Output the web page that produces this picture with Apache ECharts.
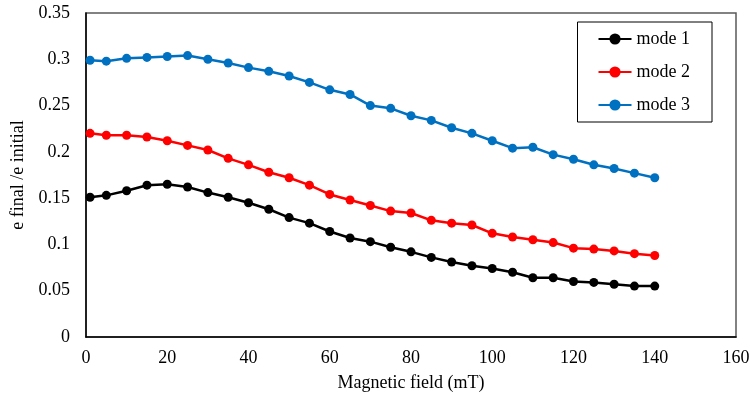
<!DOCTYPE html>
<html>
<head>
<meta charset="utf-8">
<script src="https://cdn.jsdelivr.net/npm/echarts@6/dist/echarts.min.js"></script>
<style>html,body{margin:0;padding:0;background:#fff;}#c{width:750px;height:397px;}</style>
</head>
<body>
<div id="c"></div>
<script>
const field = [1,5,10,15,20,25,30,35,40,45,50,55,60,65,70,75,80,85,90,95,100,105,110,115,120,125,130,135,140];
const mode1 = [0.151,0.153,0.158,0.164,0.165,0.162,0.156,0.151,0.145,0.138,0.129,0.123,0.114,0.107,0.103,0.097,0.092,0.086,0.081,0.077,0.074,0.070,0.064,0.064,0.060,0.059,0.057,0.055,0.055];
const mode2 = [0.220,0.218,0.218,0.216,0.212,0.207,0.202,0.193,0.186,0.178,0.172,0.164,0.154,0.148,0.142,0.136,0.134,0.126,0.123,0.121,0.112,0.108,0.105,0.102,0.096,0.095,0.093,0.090,0.088];
const mode3 = [0.299,0.298,0.301,0.302,0.303,0.304,0.300,0.296,0.291,0.287,0.282,0.275,0.267,0.262,0.250,0.247,0.239,0.234,0.226,0.220,0.212,0.204,0.205,0.197,0.192,0.186,0.182,0.177,0.172];
const seriesNames = ['mode 1','mode 2','mode 3'];
const seriesColors = ['#000000','#FF0000','#0070C0'];

const font = 'Liberation Serif';
const chart = echarts.init(document.getElementById('c'));
const vals = [mode1, mode2, mode3];
chart.setOption({
  animation: false,
  backgroundColor: '#fff',
  textStyle: {fontFamily: font},
  grid: {left: 86, right: 14, top: 13, bottom: 60, show: true, borderColor: '#595959', borderWidth: 1.5, containLabel: false, outerBoundsMode: 'none'},
  legend: {
    orient: 'vertical', right: 38, top: 22,
    itemWidth: 33, itemHeight: 14, itemGap: 15,
    padding: [8, 22, 8, 20],
    borderColor: '#000', borderWidth: 1,
    textStyle: {fontFamily: font, fontSize: 18, color: '#000', lineHeight: 18},
    data: seriesNames
  },
  xAxis: {
    type: 'value', min: 0, max: 160, interval: 20,
    name: 'Magnetic field (mT)', nameLocation: 'middle', nameGap: 37,
    nameTextStyle: {fontFamily: font, fontSize: 18, color: '#000'},
    axisLine: {lineStyle: {color: '#000', width: 1.5}},
    axisTick: {show: false},
    axisLabel: {fontFamily: font, fontSize: 18, color: '#000', margin: 12},
    splitLine: {show: false}
  },
  yAxis: {
    type: 'value', min: 0, max: 0.35, interval: 0.05,
    name: 'e final /e initial', nameLocation: 'middle', nameGap: 53, nameRotate: 90,
    nameTextStyle: {fontFamily: font, fontSize: 18, color: '#000'},
    axisLine: {show: true, lineStyle: {color: '#000', width: 1.5}},
    axisTick: {show: false},
    axisLabel: {fontFamily: font, fontSize: 18, color: '#000', margin: 16},
    splitLine: {show: false}
  },
  series: seriesNames.map((n, i) => ({
    name: n, type: 'line',
    data: field.map((x, j) => [x, vals[i][j]]),
    symbol: 'circle', symbolSize: 9,
    lineStyle: {color: seriesColors[i], width: 2.5},
    itemStyle: {color: seriesColors[i]}
  }))
});
</script>
</body>
</html>
